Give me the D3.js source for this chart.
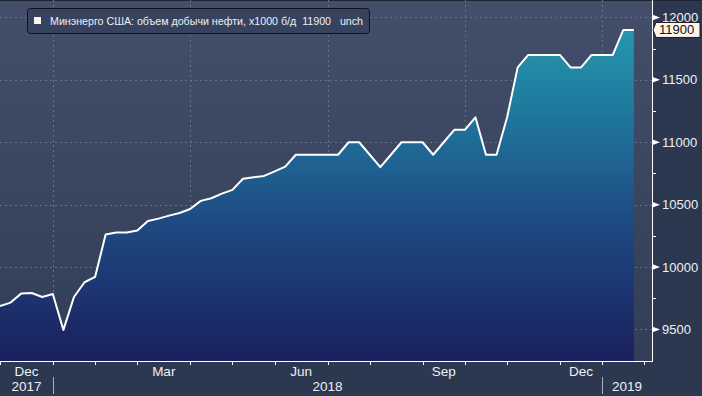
<!DOCTYPE html>
<html>
<head>
<meta charset="utf-8">
<script src="https://cdn.jsdelivr.net/npm/d3@7"></script>
<style>
html,body{margin:0;padding:0;background:#2c3850;}
svg{display:block;}
text{font-family:"Liberation Sans",Arial,sans-serif;}
</style>
</head>
<body>
<div id="chart"></div>
<script>
// weekly US crude output, kb/d (EIA), first week Dec 2017 .. last week Jan 2019
var startDate = new Date(2017, 11, 1);
var values = [9688,9715,9787,9792,9760,9784,9496,9760,9878,9921,
    10260,10276,10276,10292,10369,10388,10412,10433,10465,10530,
    10551,10588,10618,10708,10719,10730,10767,10805,10900,10900,
    10900,10900,10900,11000,11000,10900,10800,10900,11000,11000,
    11000,10900,11000,11100,11100,11200,10900,10900,11200,11600,
    11700,11700,11700,11700,11600,11600,11700,11700,11700,11900,
    11900];
var yTicks = [9500,10000,10500,11000,11500,12000];
var yMinor = [9750,10250,10750,11250,11750];
var monthNames = ["Jan","Feb","Mar","Apr","May","Jun","Jul","Aug","Sep","Oct","Nov","Dec"];
var shownMonths = ["Dec","Mar","Jun","Sep"];
var legendText = "Минэнерго США: объем добычи нефти, x1000 б/д  11900   unch";
var lastLabel = "11900";

var W = 702, H = 396;
var plotR = 652, plotB = 361;

var data = values.map(function(v,i){ return {date:d3.timeDay.offset(startDate, 7*i), value:v}; });

var svg = d3.select("#chart").append("svg").attr("width",W).attr("height",H);
var defs = svg.append("defs");

var bg = defs.append("linearGradient").attr("id","bgGrad")
    .attr("gradientUnits","userSpaceOnUse").attr("x1",0).attr("y1",0).attr("x2",0).attr("y2",plotB);
bg.append("stop").attr("offset","0%").attr("stop-color","#434e6a");
bg.append("stop").attr("offset","100%").attr("stop-color","#323d57");

var ag = defs.append("linearGradient").attr("id","areaGrad")
    .attr("gradientUnits","userSpaceOnUse").attr("x1",0).attr("y1",0).attr("x2",0).attr("y2",plotB);
ag.append("stop").attr("offset","0%").attr("stop-color","#28a0b4");
ag.append("stop").attr("offset","30%").attr("stop-color","#1f7a9e");
ag.append("stop").attr("offset","60%").attr("stop-color","#1e4c84");
ag.append("stop").attr("offset","100%").attr("stop-color","#1b1f5e");

svg.append("rect").attr("width",W).attr("height",H).attr("fill","#2c3850");
svg.append("rect").attr("x",0).attr("y",0).attr("width",plotR).attr("height",plotB).attr("fill","url(#bgGrad)");
svg.append("line").attr("x1",0).attr("x2",W).attr("y1",0.5).attr("y2",0.5).attr("stroke","#1c2230");

var x = d3.scaleTime()
    .domain([startDate, d3.timeDay.offset(startDate, Math.round(7*61.74))])
    .range([0, plotR]);
var y = d3.scaleLinear().domain([9247, 12140]).range([plotB, 0]);

// month ticks: first weekly date of each month (extended one step past the data)
var extDates = d3.range(values.length+1).map(function(i){ return d3.timeDay.offset(startDate, 7*i); });
var monthTicks = extDates.filter(function(d,i){ return i===0 || d.getMonth()!==extDates[i-1].getMonth(); });

// grid
var grid = svg.append("g").attr("stroke","#62718c").attr("stroke-width",1).attr("stroke-dasharray","2,3");
grid.selectAll("line.h").data(yTicks).enter().append("line")
    .attr("x1",0).attr("x2",plotR)
    .attr("y1",function(d){return Math.round(y(d))+0.5;})
    .attr("y2",function(d){return Math.round(y(d))+0.5;});
grid.selectAll("line.v").data(monthTicks.filter(function(d){return d.getMonth()%3===0;})).enter().append("line")
    .attr("x1",function(d){return Math.round(x(d))+0.5;})
    .attr("x2",function(d){return Math.round(x(d))+0.5;})
    .attr("y1",0).attr("y2",plotB);

// area + line
var area = d3.area().x(function(d){return x(d.date);}).y0(plotB).y1(function(d){return y(d.value);});
var line = d3.line().x(function(d){return x(d.date);}).y(function(d){return y(d.value);});
svg.append("path").datum(data).attr("d",area).attr("fill","url(#areaGrad)");
svg.append("path").datum(data).attr("d",line).attr("fill","none")
    .attr("stroke","#ffffff").attr("stroke-width",2).attr("stroke-linejoin","round");

// right axis
var ra = svg.append("g");
ra.append("line").attr("x1",plotR+0.5).attr("x2",plotR+0.5).attr("y1",0).attr("y2",plotB+0.5)
    .attr("stroke","#ffffff").attr("stroke-width",1);
ra.selectAll("path.tri").data(yTicks).enter().append("path")
    .attr("d",function(d){var yy=y(d); return "M"+plotR+","+(yy-3)+"L"+(plotR+8)+","+yy+"L"+plotR+","+(yy+3)+"Z";})
    .attr("fill","#ffffff");
ra.selectAll("line.mn").data(yMinor).enter().append("line")
    .attr("x1",plotR).attr("x2",plotR+4)
    .attr("y1",function(d){return Math.round(y(d))+0.5;})
    .attr("y2",function(d){return Math.round(y(d))+0.5;})
    .attr("stroke","#ffffff");
ra.selectAll("text").data(yTicks).enter().append("text")
    .attr("x",plotR+10).attr("y",function(d){return y(d)+4.5;})
    .attr("fill","#eef0f4").attr("font-size","13px")
    .text(function(d){return d;});

// last value marker
var ly = y(values[values.length-1]);
svg.append("path")
    .attr("d","M"+(plotR+1)+","+ly+"L"+(plotR+4)+","+(ly-7.5)+"L700,"+(ly-7.5)+"L700,"+(ly+7.5)+"L"+(plotR+4)+","+(ly+7.5)+"Z")
    .attr("fill","#fff4ea").attr("stroke","#1a1a1a").attr("stroke-width",1);
svg.append("text").attr("x",plotR+7).attr("y",ly+4.5).attr("fill","#111").attr("font-size","13px").text(lastLabel);

// bottom axis
var ba = svg.append("g");
ba.append("line").attr("x1",0).attr("x2",plotR+1).attr("y1",plotB+0.5).attr("y2",plotB+0.5).attr("stroke","#ffffff");
ba.selectAll("line.tk").data(monthTicks).enter().append("line")
    .attr("x1",function(d){return Math.round(x(d))+0.5;})
    .attr("x2",function(d){return Math.round(x(d))+0.5;})
    .attr("y1",plotB).attr("y2",plotB+4).attr("stroke","#ffffff");
var monthSpans = monthTicks.slice(0,-1).map(function(d,i){ return {d:d, x0:x(d), x1:x(monthTicks[i+1])}; });
ba.selectAll("text.m").data(monthSpans.filter(function(s){return shownMonths.indexOf(monthNames[s.d.getMonth()])>=0;}))
    .enter().append("text")
    .attr("x",function(s){return (s.x0+s.x1)/2;}).attr("y",376)
    .attr("text-anchor","middle").attr("fill","#eef0f4").attr("font-size","13.5px")
    .text(function(s){return monthNames[s.d.getMonth()];});
var janTicks = monthTicks.filter(function(d){return d.getMonth()===0;});
ba.selectAll("line.yr").data(janTicks).enter().append("line")
    .attr("x1",function(d){return Math.round(x(d))+0.5;})
    .attr("x2",function(d){return Math.round(x(d))+0.5;})
    .attr("y1",377).attr("y2",394).attr("stroke","#a9afba");
var yearBounds = [0].concat(janTicks.map(function(d){return x(d);})).concat([plotR]);
var years = [2017,2018,2019];
ba.selectAll("text.y").data(years).enter().append("text")
    .attr("x",function(d,i){return (yearBounds[i]+yearBounds[i+1])/2;}).attr("y",391)
    .attr("text-anchor","middle").attr("fill","#eef0f4").attr("font-size","13.5px")
    .text(function(d){return d;});

// legend
var lg = svg.append("g");
lg.append("rect").attr("x",27.5).attr("y",8.5).attr("width",342).attr("height",25).attr("rx",3)
    .attr("fill","#37435e").attr("stroke","#0e121a");
lg.append("rect").attr("x",34).attr("y",17).attr("width",7).attr("height",7).attr("fill","#fff6f2");
lg.append("text").attr("x",50).attr("y",25).attr("fill","#eef0f4").attr("font-size","11px")
    .attr("textLength",313).attr("lengthAdjust","spacingAndGlyphs")
    .style("white-space","pre").text(legendText);
</script>
</body>
</html>
